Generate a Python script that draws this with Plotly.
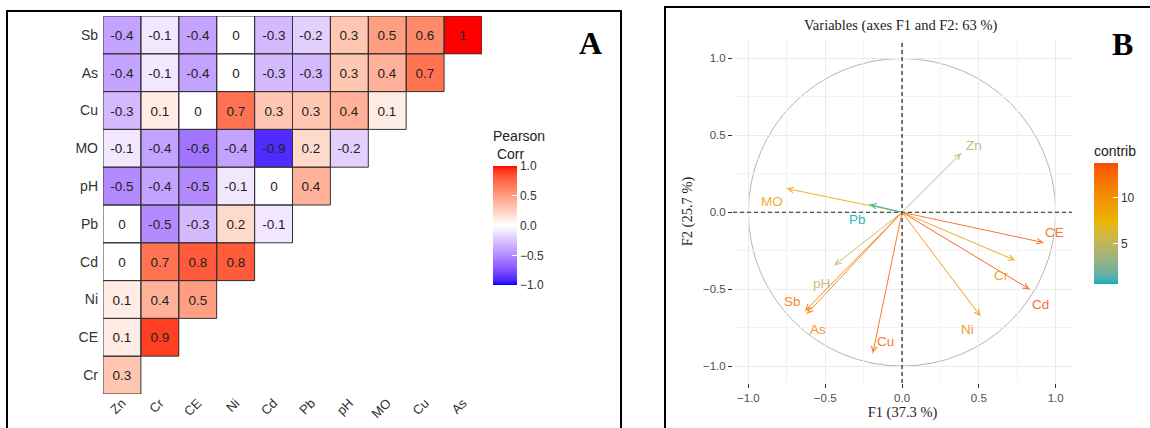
import plotly.graph_objects as go
from plotly.colors import sample_colorscale

# ---------------- DATA ----------------
# Panel A: Pearson correlation matrix (lower triangle)
row_labels = ["Sb", "As", "Cu", "MO", "pH", "Pb", "Cd", "Ni", "CE", "Cr"]
col_labels = ["Zn", "Cr", "CE", "Ni", "Cd", "Pb", "pH", "MO", "Cu", "As"]
corr_rows = [
    [-0.4, -0.1, -0.4, 0, -0.3, -0.2, 0.3, 0.5, 0.6, 1],
    [-0.4, -0.1, -0.4, 0, -0.3, -0.3, 0.3, 0.4, 0.7],
    [-0.3, 0.1, 0, 0.7, 0.3, 0.3, 0.4, 0.1],
    [-0.1, -0.4, -0.6, -0.4, -0.9, 0.2, -0.2],
    [-0.5, -0.4, -0.5, -0.1, 0, 0.4],
    [0, -0.5, -0.3, 0.2, -0.1],
    [0, 0.7, 0.8, 0.8],
    [0.1, 0.4, 0.5],
    [0.1, 0.9],
    [0.3],
]
corr_ticks = [-1.0, -0.5, 0.0, 0.5, 1.0]

# Panel B: PCA variable coordinates (F1, F2) and contributions
pca_vars = ["Sb", "As", "Cu", "MO", "pH", "Pb", "Cd", "Ni", "CE", "Cr", "Zn"]
pca_f1 = [-0.63, -0.62, -0.19, -0.75, -0.44, -0.21, 0.83, 0.51, 0.92, 0.735, 0.384]
pca_f2 = [-0.64, -0.66, -0.915, 0.154, -0.345, 0.05, -0.50, -0.675, -0.197, -0.312, 0.384]
pca_contrib = [11.8, 11.1, 12.6, 8.5, 4.5, 0.7, 13.7, 10.4, 12.8, 9.2, 4.3]
contrib_ticks = [5, 10]

# label placement (data units) for the variable names
label_f1 = [-0.716, -0.55, -0.11, -0.846, -0.527, -0.293, 0.904, 0.423, 0.989, 0.644, 0.468]
label_f2 = [-0.579, -0.761, -0.839, 0.072, -0.462, -0.046, -0.602, -0.764, -0.133, -0.41, 0.436]

W, H = 1150, 428


def px_x(p):
    return p / W


def px_y(p):
    return 1 - p / H


# ---------- Lab interpolation for the colour scales ----------
def srgb_to_lin(c):
    c = c / 255.0
    return c / 12.92 if c <= 0.04045 else ((c + 0.055) / 1.055) ** 2.4


def lin_to_srgb(c):
    c = max(0.0, min(1.0, c))
    v = 12.92 * c if c <= 0.0031308 else 1.055 * c ** (1 / 2.4) - 0.055
    return int(round(v * 255))


def rgb_to_lab(rgb):
    r, g, b = [srgb_to_lin(v) for v in rgb]
    X = 0.4124 * r + 0.3576 * g + 0.1805 * b
    Y = 0.2126 * r + 0.7152 * g + 0.0722 * b
    Z = 0.0193 * r + 0.1192 * g + 0.9505 * b
    Xn, Yn, Zn = 0.95047, 1.0, 1.08883

    def f(t):
        return t ** (1 / 3) if t > 0.008856 else 7.787 * t + 16 / 116

    fx, fy, fz = f(X / Xn), f(Y / Yn), f(Z / Zn)
    return (116 * fy - 16, 500 * (fx - fy), 200 * (fy - fz))


def lab_to_rgb(lab):
    L, a, b = lab
    fy = (L + 16) / 116
    fx = fy + a / 500
    fz = fy - b / 200

    def finv(t):
        return t ** 3 if t ** 3 > 0.008856 else (t - 16 / 116) / 7.787

    X, Y, Z = 0.95047 * finv(fx), finv(fy), 1.08883 * finv(fz)
    r = 3.2406 * X - 1.5372 * Y - 0.4986 * Z
    g = -0.9689 * X + 1.8758 * Y + 0.0415 * Z
    bb = 0.0557 * X - 0.2040 * Y + 1.0570 * Z
    return "rgb(%d,%d,%d)" % (lin_to_srgb(r), lin_to_srgb(g), lin_to_srgb(bb))


def lab_scale(cols, n=40):
    labs = [rgb_to_lab(c) for c in cols]
    out = []
    segs = len(cols) - 1
    for i in range(n + 1):
        t = i / n
        s = min(int(t * segs), segs - 1)
        lt = t * segs - s
        l0, l1 = labs[s], labs[s + 1]
        lab = tuple(l0[k] + (l1[k] - l0[k]) * lt for k in range(3))
        out.append([t, lab_to_rgb(lab)])
    return out


corr_scale = lab_scale([(0, 0, 255), (255, 255, 255), (255, 0, 0)])
contrib_scale = lab_scale([(0, 175, 187), (231, 184, 0), (252, 78, 7)])

# ---------------- build matrix ----------------
n = len(row_labels)
z = []
txt = []
for r in corr_rows:
    z.append(list(r) + [None] * (n - len(r)))
    txt.append([f"{v:g}" for v in r] + [""] * (n - len(r)))

fig = go.Figure()

fig.add_trace(go.Heatmap(
    z=z, x=col_labels, y=row_labels, text=txt, texttemplate="%{text}",
    textfont=dict(size=13.5, color="#222222", family="Liberation Sans"),
    colorscale=corr_scale, zmin=-1, zmax=1, hoverongaps=False,
    xaxis="x", yaxis="y",
    colorbar=dict(
        title=dict(text="Pearson<br> Corr", side="top",
                   font=dict(size=14, color="#222222", family="Liberation Sans")),
        x=px_x(493), xanchor="left", y=px_y(206), yanchor="middle",
        thickness=24, thicknessmode="pixels", len=158, lenmode="pixels",
        tickvals=corr_ticks, tickformat=".1f", ticks="inside", tickcolor="white",
        ticklen=5, outlinewidth=0, ypad=0, xpad=0,
        tickfont=dict(size=12, color="#333333", family="Liberation Sans"),
    ),
))

shapes = []
for i, r in enumerate(corr_rows):
    for j in range(len(r)):
        shapes.append(dict(type="rect", xref="x", yref="y",
                           x0=j - 0.5, x1=j + 0.5, y0=i - 0.5, y1=i + 0.5,
                           line=dict(color="#333333", width=1)))

# ---------------- PCA panel ----------------
cmin, cmax = min(pca_contrib), max(pca_contrib)
norm = [(c - cmin) / (cmax - cmin) for c in pca_contrib]
var_colors = sample_colorscale(contrib_scale, norm)

fig.add_trace(go.Scatter(
    x=pca_f1, y=pca_f2, mode="markers", xaxis="x2", yaxis="y2",
    hovertext=pca_vars,
    marker=dict(size=1, color=pca_contrib, colorscale=contrib_scale,
                cmin=cmin, cmax=cmax, showscale=True,
                colorbar=dict(
                    title=dict(text="contrib", side="top",
                               font=dict(size=14, color="#222222", family="Liberation Sans")),
                    x=px_x(1094), xanchor="left", y=px_y(213), yanchor="middle",
                    thickness=24, thicknessmode="pixels", len=142, lenmode="pixels",
                    tickvals=contrib_ticks, ticks="inside", tickcolor="white",
                    ticklen=5, outlinewidth=0, ypad=0, xpad=0,
                    tickfont=dict(size=12, color="#333333", family="Liberation Sans"),
                )),
    showlegend=False,
))

annotations = []
for v, x, y, lx, ly, col in zip(pca_vars, pca_f1, pca_f2, label_f1, label_f2, var_colors):
    annotations.append(dict(x=x, y=y, ax=0, ay=0, xref="x2", yref="y2",
                            axref="x2", ayref="y2", showarrow=True, text="",
                            arrowhead=5, arrowsize=1.1, arrowwidth=1, arrowcolor=col,
                            standoff=0, opacity=0.85))
    annotations.append(dict(x=lx, y=ly, xref="x2", yref="y2", text=v, showarrow=False,
                            xanchor="center", yanchor="middle", opacity=0.85,
                            font=dict(size=13.5, color=col, family="Liberation Sans")))

# unit circle and dashed reference lines
shapes.append(dict(type="circle", xref="x2", yref="y2", x0=-1, x1=1, y0=-1, y1=1,
                   line=dict(color="#B5B5B5", width=1), layer="below"))
shapes.append(dict(type="line", xref="x2 domain", yref="y2", x0=0, x1=1, y0=0, y1=0,
                   line=dict(color="#222222", width=1.2, dash="4px,3px")))
shapes.append(dict(type="line", xref="x2", yref="y2 domain", x0=0, x1=0, y0=0, y1=1,
                   line=dict(color="#222222", width=1.2, dash="4px,3px")))

# panel frames
shapes.append(dict(type="rect", xref="paper", yref="paper",
                   x0=px_x(7), x1=px_x(621), y0=-0.05, y1=px_y(11),
                   line=dict(color="black", width=2)))
shapes.append(dict(type="rect", xref="paper", yref="paper",
                   x0=px_x(665), x1=1.05, y0=-0.05, y1=px_y(7),
                   line=dict(color="black", width=2)))

# titles / panel letters
annotations.append(dict(x=px_x(590), y=px_y(43), xref="paper", yref="paper", text="<b>A</b>",
                        xanchor="center", yanchor="middle", showarrow=False,
                        font=dict(size=32, color="black", family="Liberation Serif")))
annotations.append(dict(x=px_x(1122), y=px_y(44), xref="paper", yref="paper", text="<b>B</b>",
                        xanchor="center", yanchor="middle", showarrow=False,
                        font=dict(size=32, color="black", family="Liberation Serif")))
annotations.append(dict(x=px_x(900), y=px_y(26), xref="paper", yref="paper",
                        text="Variables (axes F1 and F2: 63 %)", showarrow=False,
                        xanchor="center", yanchor="middle",
                        font=dict(size=14.5, color="#222222", family="Liberation Serif")))

sans_tick = dict(size=14, color="#333333", family="Liberation Sans")
fig.update_layout(
    width=W, height=H, margin=dict(l=0, r=0, t=0, b=0),
    paper_bgcolor="white", plot_bgcolor="white",
    shapes=shapes, annotations=annotations, showlegend=False,
    xaxis=dict(domain=[px_x(103), px_x(482)], anchor="y", tickangle=-45,
               showgrid=False, zeroline=False, showline=False, ticks="",
               tickfont=dict(size=13, color="#333333", family="Liberation Sans"),
               ticklabelstandoff=-2,
               range=[-0.5, 9.5], type="category"),
    yaxis=dict(domain=[px_y(394), px_y(16)], anchor="x", showgrid=False,
               zeroline=False, showline=False, ticks="", tickfont=sans_tick,
               ticklabelstandoff=4,
               range=[9.5, -0.5], type="category"),
    xaxis2=dict(domain=[px_x(733), px_x(1072)], anchor="y2", range=[-1.1, 1.106],
                dtick=0.5, tick0=0, tickformat=".1f", showgrid=True, gridcolor="#EBEBEB",
                minor=dict(dtick=0.25, showgrid=True, gridcolor="#F3F3F3"),
                zeroline=False, showline=False, ticks="outside", ticklen=4,
                tickcolor="#333333",
                tickfont=dict(size=11.5, color="#4D4D4D", family="Liberation Sans"),
                title=dict(text="F1 (37.3 %)", standoff=4,
                           font=dict(size=14.5, color="#222222", family="Liberation Serif"))),
    yaxis2=dict(domain=[px_y(383), px_y(40)], anchor="x2", range=[-1.11, 1.12],
                dtick=0.5, tick0=0, tickformat=".1f", showgrid=True, gridcolor="#EBEBEB",
                minor=dict(dtick=0.25, showgrid=True, gridcolor="#F3F3F3"),
                zeroline=False, showline=False, ticks="outside", ticklen=4,
                tickcolor="#333333",
                tickfont=dict(size=11.5, color="#4D4D4D", family="Liberation Sans"),
                title=dict(text="F2 (25.7 %)", standoff=6,
                           font=dict(size=14.5, color="#222222", family="Liberation Serif"))),
)

fig.write_html("out.html", config={"displayModeBar": False},
               post_script="document.body.style.margin='0';document.body.style.overflow='hidden';")
